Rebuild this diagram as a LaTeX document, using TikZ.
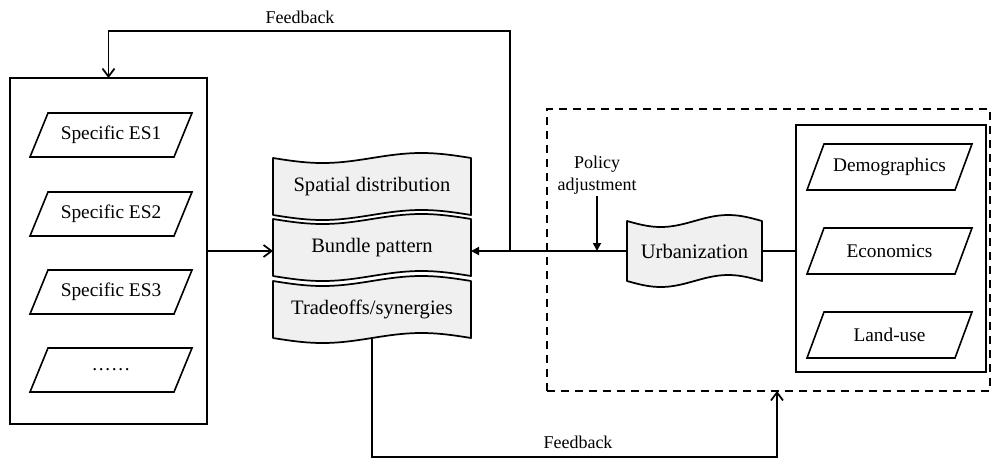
\documentclass[tikz,border=0pt]{standalone}
\usepackage{fontspec}
\setmainfont{Liberation Serif}
\newfontfamily\tnr{Liberation Serif}
\usetikzlibrary{arrows.meta}
\definecolor{tapefill}{RGB}{240,240,240}
\tikzset{
  frame/.style={draw, line width=1.3pt, inner sep=0pt, outer sep=0pt},
  dashframe/.style={draw, line width=1.3pt, dash pattern=on 6pt off 4.5pt, inner sep=0pt, outer sep=0pt,
    minimum width=332.25pt, minimum height=211.5pt},
  paratext/.style={inner sep=0pt, outer sep=0pt, font=\tnr\fontsize{14.5}{17}\selectfont},
  paraline/.style={draw, line width=1.2pt, line join=miter},
  tapeline/.style={draw, line width=1.3pt, fill=tapefill, line join=round},
  tapetext/.style={inner sep=0pt, outer sep=0pt, font=\tnr\fontsize{15.4}{18}\selectfont},
  lbl/.style={font=\tnr\fontsize{13.5}{16}\selectfont, inner sep=0pt, align=center},
  conn/.style={line width=1.3pt},
  openarrow/.style={conn, -{Straight Barb[length=6pt,width=9pt,line width=1.3pt]}},
  fillarrow/.style={conn, -{Triangle[length=6pt,width=6pt]}},
}
% parallelogram: name, cx, cy, width(pt), height(pt), slant(pt), text
\newcommand\paranode[7]{%
  \node[paratext, minimum width=#4, minimum height=#5] (#1) at (#2,#3) {#7};
  \draw[paraline] ([xshift=#6]#1.north west) -- (#1.north east)
    -- ([xshift=-#6]#1.south east) -- (#1.south west) -- cycle;
}
% tape: name, L, R, T, B, bend, text
\newcommand\tapenode[7]{%
  \filldraw[tapeline]
    plot[variable=\t, domain=0:1, samples=41, smooth] ({#2+(#3-#2)*\t},{#4+#6*sin(360*\t)})
    -- plot[variable=\t, domain=1:0, samples=41, smooth] ({#2+(#3-#2)*\t},{#5+#6*sin(360*\t)})
    -- cycle;
  \node[tapetext, minimum width={(#3-#2)*0.75pt}, minimum height={(#5-#4)*0.75pt}]
    (#1) at ({(#2+#3)/2},{(#4+#5)/2}) {#7};
}
\begin{document}
\begin{tikzpicture}[x=0.75pt,y=-0.75pt]
\useasboundingbox (0,0) rectangle (999,461);

% left box
\node[frame, minimum width=147.75pt, minimum height=259.5pt] (leftbox) at (108.5,251) {};
\paranode{es1}{111}{135}{121.5pt}{33pt}{13.5pt}{Specific ES1}
\paranode{es2}{111}{214}{121.5pt}{33pt}{13.5pt}{Specific ES2}
\paranode{es3}{111}{292}{121.5pt}{33pt}{13.5pt}{Specific ES3}
\paranode{es4}{111}{370}{121.5pt}{33pt}{13.5pt}{……}

% stacked tapes
\tapenode{spatial}{273}{471}{158}{215}{5}{Spatial distribution}
\tapenode{bundle}{273}{471}{219}{276}{5}{Bundle pattern}
\tapenode{trade}{273}{471}{281}{338}{5}{Tradeoffs/synergies}

% dashed region
\node[dashframe] (dashbox) at (768.5,250) {};
\tapenode{urb}{627}{762}{221}{281}{6}{Urbanization}
\node[frame, minimum width=142.5pt, minimum height=185.25pt] (rightbox) at (891,248.5) {};
\paranode{demo}{889.5}{167}{123.75pt}{34.5pt}{12.75pt}{Demographics}
\paranode{econ}{889.5}{251}{123.75pt}{34.5pt}{12.75pt}{Economics}
\paranode{land}{889.5}{335}{123.75pt}{34.5pt}{12.75pt}{Land-use}

% labels
\node[lbl] (policy) at (597,175) {Policy\\adjustment};
\node[lbl] (fbtoplbl) at (300,17) {Feedback};
\node[lbl] (fbbotlbl) at (578,442) {Feedback};

% connectors
\coordinate (jn) at (510,251);
\coordinate (fbtop) at (510,31);
\coordinate (fbbot) at (777,457);

\draw[openarrow] (leftbox.east |- jn) -- (bundle.west |- jn);
\draw[fillarrow] (urb.west |- jn) -- (bundle.east |- jn);
\draw[openarrow] (jn) -- (fbtop) -| (leftbox.north);
\draw[fillarrow] ([yshift=-1.5pt]policy.south) -- (policy.south |- jn);
\draw[conn] (urb.east |- jn) -- (rightbox.west |- jn);
\draw[openarrow] (trade.south) -- (trade.south |- fbbot) -- (fbbot) -- (fbbot |- dashbox.south);
\end{tikzpicture}
\end{document}
